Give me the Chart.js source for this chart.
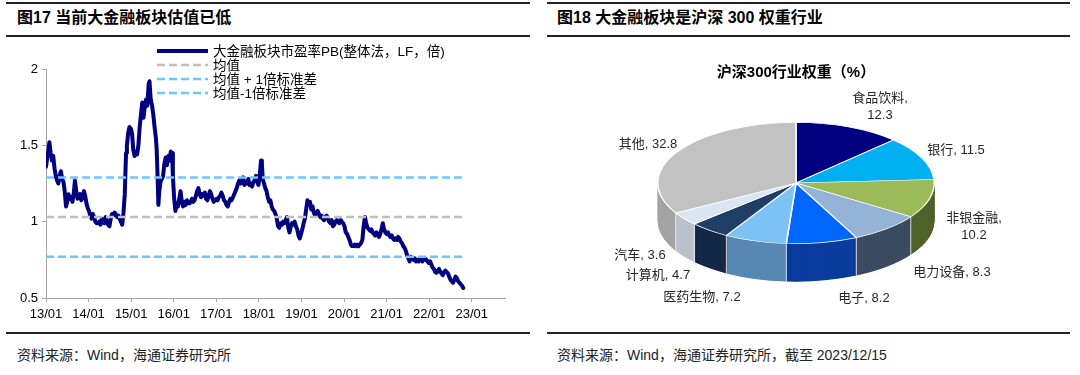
<!DOCTYPE html>
<html>
<head>
<meta charset="utf-8">
<script src="https://cdn.jsdelivr.net/npm/chart.js@4.4.0/dist/chart.umd.min.js"></script>
<style>
html,body{margin:0;padding:0;background:#fff;}
body{width:1080px;height:375px;position:relative;overflow:hidden;font-family:"Liberation Sans",Arial,"Noto Sans CJK SC",sans-serif;}
.rule{position:absolute;height:2px;background:#222;}
.title{position:absolute;top:8px;font-weight:bold;font-size:16px;line-height:20px;color:#000;white-space:nowrap;}
.src{position:absolute;top:346px;font-size:14px;line-height:18px;color:#222;white-space:nowrap;}
canvas{position:absolute;}
.lbl{position:absolute;font-size:13px;line-height:17px;color:#262626;text-align:center;white-space:nowrap;transform:translateX(-50%);}
.ptitle{position:absolute;font-size:15px;font-weight:bold;line-height:20px;color:#000;white-space:nowrap;transform:translateX(-50%);}
</style>
</head>
<body>
<div class="rule" style="left:6px;top:2px;width:524px;"></div>
<div class="rule" style="left:6px;top:35px;width:524px;"></div>
<div class="rule" style="left:6px;top:332px;width:524px;"></div>
<div class="rule" style="left:547px;top:2px;width:523px;"></div>
<div class="rule" style="left:547px;top:35px;width:523px;"></div>
<div class="rule" style="left:547px;top:332px;width:523px;"></div>
<div class="title" style="left:17px;">图17 当前大金融板块估值已低</div>
<div class="title" style="left:557px;">图18 大金融板块是沪深 300 权重行业</div>
<div class="src" style="left:17px;">资料来源：Wind，海通证券研究所</div>
<div class="src" style="left:557px;">资料来源：Wind，海通证券研究所，截至 2023/12/15</div>
<canvas id="c1" width="530" height="290" style="left:0;top:40px;"></canvas>
<canvas id="c2" width="515" height="290" style="left:553px;top:40px;"></canvas>
<div class="ptitle" style="left:796px;top:62px;">沪深300行业权重（%）</div>
<div id="labels"></div>
<script>
// ---------- Left chart data ----------
const seriesName = '大金融板块市盈率PB(整体法，LF，倍)';
const meanName = '均值';
const plusName = '均值 + 1倍标准差';
const minusName = '均值-1倍标准差';
const xTickYears = [2013,2014,2015,2016,2017,2018,2019,2020,2021,2022,2023];
const meanPB = 1.03;
const plusPB = 1.29;
const minusPB = 0.77;
const pbDates = [
2013.00,2013.03,2013.06,2013.08,2013.11,2013.14,2013.17,2013.20,2013.23,2013.26,2013.29,2013.32,2013.35,2013.38,2013.41,2013.44,2013.47,2013.50,2013.53,2013.56,2013.59,2013.62,2013.65,2013.68,2013.71,2013.74,2013.77,2013.80,2013.83,2013.86,2013.89,2013.92,2013.95,2013.98,
2014.01,2014.04,2014.07,2014.10,2014.13,2014.16,2014.19,2014.22,2014.25,2014.28,2014.31,2014.34,2014.37,2014.40,2014.43,2014.46,2014.49,2014.52,2014.55,2014.58,2014.61,2014.64,2014.67,2014.70,2014.73,2014.76,2014.79,2014.82,2014.85,2014.88,2014.90,2014.93,2014.96,2014.99,
2015.02,2015.05,2015.08,2015.11,2015.14,2015.17,2015.20,2015.23,2015.26,2015.29,2015.32,2015.35,2015.38,2015.41,2015.43,2015.46,2015.49,2015.52,2015.55,2015.58,2015.60,2015.62,2015.64,2015.66,2015.69,2015.72,2015.75,2015.78,2015.81,2015.84,2015.87,2015.90,2015.93,2015.96,2015.98,
2016.01,2016.04,2016.07,2016.10,2016.13,2016.16,2016.19,2016.22,2016.25,2016.28,2016.31,2016.34,2016.37,2016.40,2016.43,2016.46,2016.49,2016.52,2016.55,2016.58,2016.61,2016.64,2016.67,2016.70,2016.73,2016.76,2016.79,2016.82,2016.85,2016.88,2016.91,2016.94,2016.97,
2017.00,2017.03,2017.06,2017.09,2017.12,2017.15,2017.18,2017.21,2017.24,2017.27,2017.30,2017.33,2017.36,2017.39,2017.42,2017.45,2017.48,2017.51,2017.54,2017.57,2017.60,2017.63,2017.66,2017.69,2017.72,2017.75,2017.78,2017.81,2017.84,2017.87,2017.90,2017.93,2017.96,2017.99,
2018.02,2018.05,2018.07,2018.09,2018.12,2018.15,2018.18,2018.21,2018.24,2018.27,2018.30,2018.33,2018.36,2018.39,2018.42,2018.45,2018.48,2018.51,2018.54,2018.57,2018.60,2018.63,2018.66,2018.69,2018.72,2018.75,2018.78,2018.81,2018.84,2018.87,2018.90,2018.93,2018.96,2018.99,
2019.02,2019.05,2019.08,2019.11,2019.14,2019.17,2019.20,2019.23,2019.26,2019.29,2019.32,2019.35,2019.38,2019.41,2019.44,2019.47,2019.50,2019.53,2019.56,2019.59,2019.62,2019.65,2019.68,2019.71,2019.74,2019.77,2019.80,2019.83,2019.86,2019.89,2019.92,2019.95,2019.98,
2020.01,2020.04,2020.07,2020.10,2020.13,2020.16,2020.19,2020.22,2020.25,2020.28,2020.31,2020.34,2020.37,2020.40,2020.43,2020.46,2020.49,2020.52,2020.55,2020.58,2020.61,2020.64,2020.67,2020.70,2020.73,2020.76,2020.79,2020.82,2020.85,2020.88,2020.91,2020.94,2020.97,
2021.00,2021.03,2021.06,2021.09,2021.12,2021.15,2021.18,2021.21,2021.24,2021.27,2021.30,2021.33,2021.36,2021.39,2021.42,2021.45,2021.48,2021.51,2021.54,2021.57,2021.60,2021.63,2021.66,2021.69,2021.72,2021.75,2021.78,2021.81,2021.84,2021.87,2021.90,2021.93,2021.96,2021.99,
2022.02,2022.05,2022.08,2022.11,2022.14,2022.17,2022.20,2022.23,2022.26,2022.29,2022.32,2022.35,2022.38,2022.41,2022.44,2022.47,2022.50,2022.53,2022.56,2022.59,2022.62,2022.65,2022.68,2022.71,2022.74,2022.77,2022.80
];
const pbValues = [
1.36,1.42,1.47,1.52,1.45,1.40,1.43,1.35,1.30,1.27,1.25,1.30,1.33,1.28,1.26,1.20,1.10,1.13,1.18,1.15,1.16,1.13,1.18,1.27,1.20,1.15,1.16,1.18,1.14,1.16,1.20,1.17,1.12,1.09,
1.07,1.04,1.02,1.05,1.03,1.00,0.99,0.99,1.00,0.98,1.02,1.00,0.99,1.03,1.00,0.98,0.97,1.02,1.05,1.04,1.06,1.05,1.03,1.04,1.02,1.00,0.98,1.06,1.18,1.45,1.50,1.58,1.62,1.61,
1.58,1.47,1.43,1.46,1.44,1.50,1.62,1.70,1.78,1.68,1.75,1.80,1.76,1.90,1.92,1.80,1.76,1.70,1.62,1.55,1.47,1.30,1.11,1.20,1.26,1.28,1.30,1.38,1.42,1.37,1.43,1.40,1.46,1.45,1.30,
1.15,1.07,1.12,1.10,1.15,1.20,1.13,1.10,1.13,1.11,1.14,1.12,1.12,1.13,1.15,1.13,1.14,1.17,1.20,1.22,1.18,1.16,1.18,1.17,1.19,1.15,1.14,1.17,1.20,1.18,1.15,1.13,1.14,
1.15,1.14,1.16,1.17,1.19,1.17,1.14,1.13,1.11,1.10,1.13,1.15,1.14,1.16,1.18,1.20,1.22,1.25,1.27,1.25,1.26,1.29,1.24,1.26,1.25,1.28,1.24,1.25,1.23,1.26,1.27,1.30,1.26,1.24,
1.31,1.40,1.38,1.28,1.25,1.22,1.20,1.16,1.13,1.14,1.10,1.08,1.07,1.05,1.02,0.97,0.96,0.99,0.98,1.00,0.99,1.01,1.03,0.96,0.93,0.97,0.99,0.98,1.00,0.97,0.95,0.91,0.89,0.92,
0.95,0.99,1.02,1.08,1.14,1.12,1.13,1.08,1.10,1.06,1.04,1.06,1.07,1.05,1.03,1.04,1.02,1.01,1.03,1.04,1.02,1.00,0.99,1.01,0.97,0.98,1.00,1.01,1.00,0.99,1.01,1.00,0.99,
0.97,0.93,0.92,0.90,0.88,0.85,0.84,0.84,0.85,0.84,0.85,0.84,0.85,0.86,0.88,0.97,1.03,0.99,0.96,0.95,0.94,0.95,0.93,0.92,0.91,0.93,0.92,0.90,0.92,0.95,0.99,0.95,0.93,
0.92,0.93,0.91,0.90,0.91,0.89,0.88,0.89,0.88,0.90,0.89,0.87,0.86,0.84,0.83,0.81,0.78,0.76,0.74,0.77,0.76,0.75,0.76,0.74,0.75,0.74,0.76,0.75,0.74,0.75,0.76,0.75,0.74,0.73,
0.74,0.72,0.70,0.69,0.67,0.665,0.68,0.69,0.67,0.66,0.65,0.67,0.68,0.67,0.66,0.64,0.62,0.61,0.60,0.62,0.64,0.63,0.61,0.60,0.59,0.58,0.565
];

// ---------- Right chart data ----------
const industries = ['食品饮料','银行','非银金融','电力设备','电子','医药生物','计算机','汽车','其他'];
const weights = [12.3,11.5,10.2,8.3,8.2,7.2,4.7,3.6,32.8];

// ---------- styles ----------
const topColors  = ['#000080','#00B0F0','#9BBB59','#95B3D7','#0066FF','#7CC2F4','#213F66','#DCE6F2','#C2C2C2'];
const sideColors = ['#00004D','#007AA8','#4F6228','#3C4C62','#0B3C9E','#5888B4','#152A48','#B9C2CC','#A3A3A3'];
const labelPos = [[880,89],[956,141],[974,209],[952,263],[864,289],[702,288],[658,266],[640,246],[648,135]];
const labelTwoLine = [true,false,true,false,false,false,false,false,false];

const navy = '#000080', grayDash = '#BFBFBF', blueDash = '#6CC6FF';
const fontFam = '"Liberation Sans", Arial, "Noto Sans CJK SC", sans-serif';

// ---------- Left chart ----------
const legendPlugin = {
  id: 'fixedLegend',
  afterDraw(chart) {
    const ctx = chart.ctx;
    const items = [
      {t: seriesName, c: navy, w: 4, d: []},
      {t: meanName, c: grayDash, w: 2.5, d: [8,4]},
      {t: plusName, c: blueDash, w: 2.5, d: [8,4]},
      {t: minusName, c: blueDash, w: 2.5, d: [8,4]}
    ];
    ctx.save();
    ctx.font = '13.5px ' + fontFam;
    ctx.textBaseline = 'middle';
    items.forEach((it, i) => {
      const y = 11 + i * 14;
      ctx.beginPath();
      ctx.setLineDash(it.d);
      ctx.lineWidth = it.w;
      ctx.strokeStyle = it.c;
      ctx.moveTo(157, y); ctx.lineTo(208, y);
      ctx.stroke();
      ctx.setLineDash([]);
      ctx.fillStyle = '#000';
      ctx.fillText(it.t, 213, y + 1);
    });
    ctx.restore();
  }
};

const first = pbDates[0], last = pbDates[pbDates.length - 1];
const refLine = (v) => [{x: first, y: v}, {x: last, y: v}];
const axisGray = '#A6A6A6';

new Chart(document.getElementById('c1'), {
  type: 'line',
  data: {
    datasets: [
      {label: seriesName, data: pbDates.map((d, i) => ({x: d, y: pbValues[i]})), borderColor: navy, borderWidth: 4, pointRadius: 0, tension: 0, borderJoinStyle: 'round', borderCapStyle: 'round', order: 2},
      {label: meanName, data: refLine(meanPB), borderColor: grayDash, borderWidth: 2.5, borderDash: [8,4], pointRadius: 0, order: 1},
      {label: plusName, data: refLine(plusPB), borderColor: blueDash, borderWidth: 2.5, borderDash: [8,4], pointRadius: 0, order: 1},
      {label: minusName, data: refLine(minusPB), borderColor: blueDash, borderWidth: 2.5, borderDash: [8,4], pointRadius: 0, order: 1}
    ]
  },
  options: {
    responsive: false, animation: false,
    layout: {padding: {left: 0, top: 29, right: 25, bottom: 2}},
    plugins: {legend: {display: false}, tooltip: {enabled: false}},
    scales: {
      x: {
        type: 'linear', min: 2013, max: 2023.78,
        afterBuildTicks: s => { s.ticks = xTickYears.map(v => ({value: v})); },
        afterFit: s => { s.height = 30; },
        ticks: {callback: v => String(v).slice(2) + '/01', font: {size: 13, family: fontFam}, color: '#000', maxRotation: 0, autoSkip: false, padding: 5},
        grid: {drawOnChartArea: false, tickLength: 4, color: axisGray},
        border: {color: axisGray}
      },
      y: {
        min: 0.5, max: 2,
        afterFit: s => { s.width = 46; },
        ticks: {stepSize: 0.5, callback: v => String(v), font: {size: 13, family: fontFam}, color: '#000', padding: 4},
        grid: {drawOnChartArea: false, tickLength: 4, color: axisGray},
        border: {color: axisGray}
      }
    }
  },
  plugins: [legendPlugin]
});

// ---------- Right chart (3D-look pie) ----------
const squash = 61 / 139;
const depth = 38;
const pie3d = {
  id: 'pie3d',
  beforeDatasetsDraw(chart) {
    const meta = chart.getDatasetMeta(0);
    const a0 = meta.data[0];
    const cx = a0.x, cy = a0.y;
    const ctx = chart.ctx;
    ctx.save();
    ctx.translate(cx, cy); ctx.scale(1, squash); ctx.translate(-cx, -cy);
    for (let k = depth; k >= 0.5; k -= 0.5) {
      ctx.save();
      ctx.translate(0, k / squash);
      meta.data.forEach((arc, i) => {
        ctx.beginPath();
        ctx.moveTo(arc.x, arc.y);
        ctx.arc(arc.x, arc.y, arc.outerRadius, arc.startAngle, arc.endAngle);
        ctx.closePath();
        ctx.fillStyle = sideColors[i];
        ctx.fill();
      });
      ctx.restore();
    }
  },
  afterDatasetsDraw(chart) {
    const ctx = chart.ctx;
    ctx.restore();
    const meta = chart.getDatasetMeta(0);
    ctx.save();
    ctx.strokeStyle = 'rgba(255,255,255,0.8)';
    ctx.lineWidth = 1;
    meta.data.forEach(arc => {
      const a = arc.startAngle;
      if (Math.sin(a) > 0.02) {
        const x = arc.x + arc.outerRadius * Math.cos(a);
        const y = arc.y + arc.outerRadius * Math.sin(a) * squash;
        ctx.beginPath(); ctx.moveTo(x, y); ctx.lineTo(x, y + depth); ctx.stroke();
      }
    });
    ctx.restore();
  }
};

new Chart(document.getElementById('c2'), {
  type: 'pie',
  data: {labels: industries, datasets: [{data: weights, backgroundColor: topColors, borderColor: '#FFFFFF', borderWidth: 1.5}]},
  options: {
    responsive: false, animation: false,
    layout: {padding: {left: 104, right: 133, top: 4, bottom: 8}},
    plugins: {legend: {display: false}, tooltip: {enabled: false}}
  },
  plugins: [pie3d]
});

// pie data labels (text)
const holder = document.getElementById('labels');
industries.forEach((name, i) => {
  const d = document.createElement('div');
  d.className = 'lbl';
  d.style.left = labelPos[i][0] + 'px';
  d.style.top = labelPos[i][1] + 'px';
  if (labelTwoLine[i]) d.innerHTML = name + ',<br>' + weights[i];
  else d.textContent = name + ', ' + weights[i];
  holder.appendChild(d);
});
</script>
</body>
</html>
